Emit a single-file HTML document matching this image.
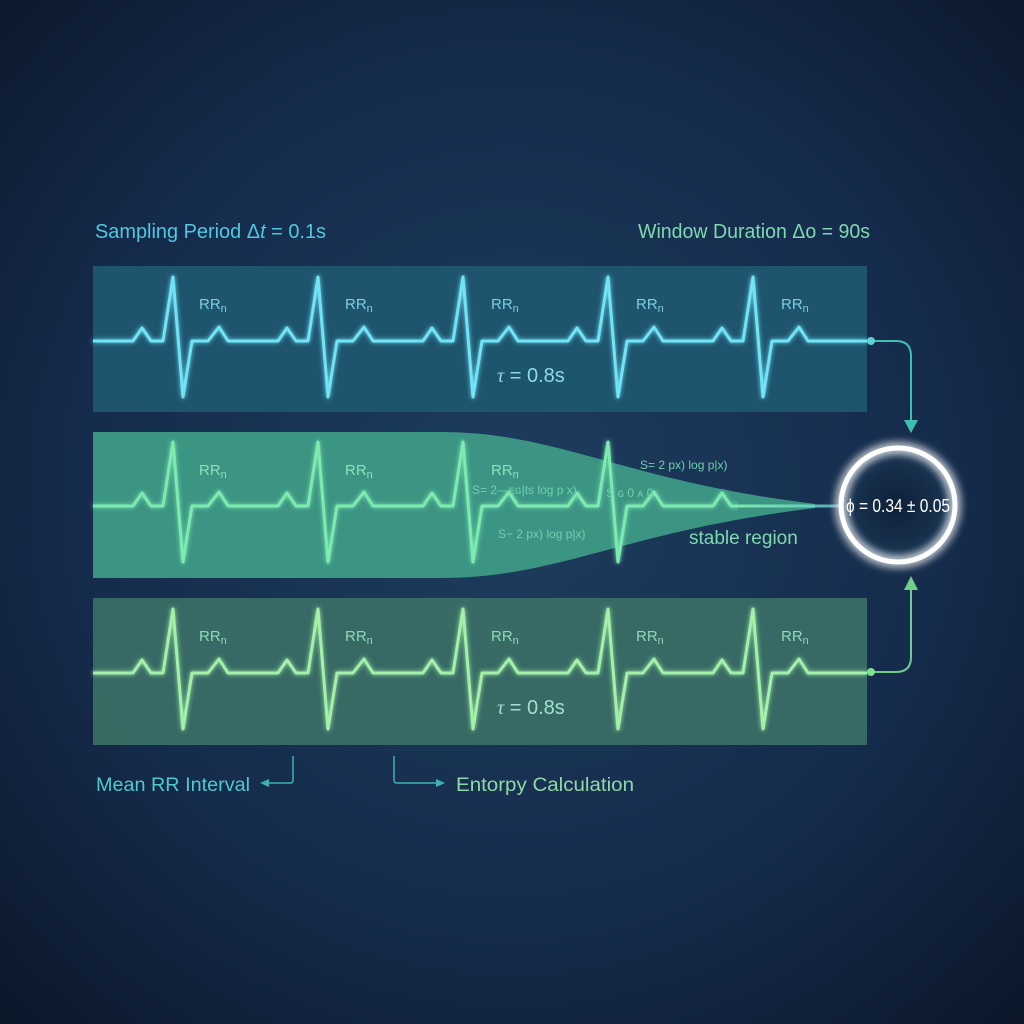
<!DOCTYPE html>
<html><head><meta charset="utf-8"><style>
html,body{margin:0;padding:0;width:1024px;height:1024px;overflow:hidden;background:#10213a}
svg{display:block}
text{font-family:"Liberation Sans Narrow","Liberation Sans",sans-serif}
</style></head><body>
<svg width="1024" height="1024" viewBox="0 0 1024 1024" xmlns="http://www.w3.org/2000/svg">
<defs>
<radialGradient id="bg" cx="50%" cy="48%" r="72%">
<stop offset="0" stop-color="#1d3d5e"/><stop offset="0.6" stop-color="#152b4b"/><stop offset="1" stop-color="#0b1729"/>
</radialGradient>
<radialGradient id="cg" cx="50%" cy="50%" r="50%">
<stop offset="0" stop-color="#0f2038"/><stop offset="0.8" stop-color="#18324f"/><stop offset="1" stop-color="#2d4c6a"/>
</radialGradient>
<linearGradient id="fade" gradientUnits="userSpaceOnUse" x1="737" y1="0" x2="842" y2="0"><stop offset="0" stop-color="#7deab0"/><stop offset="1" stop-color="#6ad0d8" stop-opacity="0.75"/></linearGradient>
<filter id="glow" x="-20%" y="-20%" width="140%" height="140%"><feGaussianBlur stdDeviation="2.5" result="b"/><feMerge><feMergeNode in="b"/><feMergeNode in="SourceGraphic"/></feMerge></filter>
<filter id="glow2" x="-40%" y="-40%" width="180%" height="180%"><feGaussianBlur stdDeviation="5" result="b"/><feMerge><feMergeNode in="b"/><feMergeNode in="b"/><feMergeNode in="SourceGraphic"/></feMerge></filter>
<path id="ecg" d="M0 0 H40 l9 -13 l9 13 h12 l10 -64 l10 120 l9 -56 h16 l11 -14 l9 14 h50 l9 -13 l9 13 h12 l10 -64 l10 120 l9 -56 h16 l11 -14 l9 14 h50 l9 -13 l9 13 h12 l10 -64 l10 120 l9 -56 h16 l11 -14 l9 14 h50 l9 -13 l9 13 h12 l10 -64 l10 120 l9 -56 h16 l11 -14 l9 14 h50 l9 -13 l9 13 h12 l10 -64 l10 120 l9 -56 h16 l11 -14 l9 14 h50 H774" fill="none" stroke-width="3" stroke-linejoin="round"/>
<clipPath id="midclip"><rect x="-5" y="-100" width="650" height="200"/></clipPath>
</defs>
<rect width="1024" height="1024" fill="url(#bg)"/>

<text x="95" y="238" font-size="20" fill="#4fc8e0" textLength="231" lengthAdjust="spacingAndGlyphs">Sampling Period Δ<tspan font-style="italic">t</tspan> = 0.1s</text>
<text x="638" y="238" font-size="20" fill="#7fd8b0" textLength="232" lengthAdjust="spacingAndGlyphs">Window Duration Δo = 90s</text>

<rect x="93" y="266" width="774" height="146" fill="#1f5670" opacity="0.95"/>
<use href="#ecg" x="93" y="341" stroke="#6fe3f5" filter="url(#glow)"/>
<g font-size="15" fill="#7ccde0">
<text x="199" y="309">RR<tspan font-size="11" dy="3">n</tspan></text>
<text x="345" y="309">RR<tspan font-size="11" dy="3">n</tspan></text>
<text x="491" y="309">RR<tspan font-size="11" dy="3">n</tspan></text>
<text x="636" y="309">RR<tspan font-size="11" dy="3">n</tspan></text>
<text x="781" y="309">RR<tspan font-size="11" dy="3">n</tspan></text>
</g>
<text x="497" y="382" font-size="20" fill="#8fd8e8"><tspan font-style="italic" font-family="Liberation Serif">τ</tspan> = 0.8s</text>

<path d="M93 432 H440 C560 432 620 480 815 504 L815 508 C620 532 560 578 440 578 H93 Z" fill="#3e9a86" opacity="0.95"/>
<g clip-path="url(#midclip)" transform="translate(93,506)"><use href="#ecg" stroke="#7deab0" filter="url(#glow)"/></g>
<line x1="737" y1="506" x2="842" y2="506" stroke="url(#fade)" stroke-width="3"/>
<g font-size="15" fill="#8fe0b8">
<text x="199" y="475">RR<tspan font-size="11" dy="3">n</tspan></text>
<text x="345" y="475">RR<tspan font-size="11" dy="3">n</tspan></text>
<text x="491" y="475">RR<tspan font-size="11" dy="3">n</tspan></text>
</g>
<g font-size="12" fill="#6fcfae">
<text x="472" y="494">S= 2—ᴇɢ|ts log p x)</text>
<text x="498" y="538">S− 2 px) log p|x)</text>
<text x="640" y="469">S= 2 px) log p|x)</text>
<text x="606" y="497">S ɢ 0 ᴀ 0</text>
</g>
<text x="689" y="544" font-size="19" fill="#7fd8b0">stable region</text>

<rect x="93" y="598" width="774" height="147" fill="#3a6e66" opacity="0.95"/>
<use href="#ecg" x="93" y="673" stroke="#a3f0a8" filter="url(#glow)"/>
<g font-size="15" fill="#8fd8b8">
<text x="199" y="641">RR<tspan font-size="11" dy="3">n</tspan></text>
<text x="345" y="641">RR<tspan font-size="11" dy="3">n</tspan></text>
<text x="491" y="641">RR<tspan font-size="11" dy="3">n</tspan></text>
<text x="636" y="641">RR<tspan font-size="11" dy="3">n</tspan></text>
<text x="781" y="641">RR<tspan font-size="11" dy="3">n</tspan></text>
</g>
<text x="497" y="714" font-size="20" fill="#a0e0d0"><tspan font-style="italic" font-family="Liberation Serif">τ</tspan> = 0.8s</text>

<path d="M871 341 H896 Q911 341 911 356 V422" fill="none" stroke="#3fbfb0" stroke-width="2"/>
<path d="M904 420 L918 420 L911 433 Z" fill="#3fbfb0"/>
<circle cx="871" cy="341" r="4" fill="#5fd0d0"/>
<path d="M871 672 H896 Q911 672 911 657 V588" fill="none" stroke="#6fcf8a" stroke-width="2"/>
<path d="M904 590 L918 590 L911 576 Z" fill="#6fcf8a"/>
<circle cx="871" cy="672" r="4" fill="#7fe08a"/>

<circle cx="898" cy="505" r="57" fill="url(#cg)"/>
<circle cx="898" cy="505" r="57" fill="none" stroke="#ffffff" stroke-width="5" filter="url(#glow2)"/>
<text x="898" y="512" font-size="18" fill="#ffffff" text-anchor="middle" textLength="104" lengthAdjust="spacingAndGlyphs">ϕ = 0.34 ± 0.05</text>

<text x="96" y="791" font-size="19" fill="#4fc8d0" textLength="154" lengthAdjust="spacingAndGlyphs">Mean RR Interval</text>
<path d="M293 756 V780 Q293 783 290 783 H266" fill="none" stroke="#3fb0b0" stroke-width="1.5"/>
<path d="M260 783 L269 779 L269 787 Z" fill="#3fb0b0"/>
<path d="M394 756 V780 Q394 783 397 783 H436" fill="none" stroke="#3fb0b0" stroke-width="1.5"/>
<path d="M445 783 L436 779 L436 787 Z" fill="#3fb0b0"/>
<text x="456" y="791" font-size="19" fill="#8fd8a8" textLength="178" lengthAdjust="spacingAndGlyphs">Entorpy Calculation</text>
</svg>
</body></html>
